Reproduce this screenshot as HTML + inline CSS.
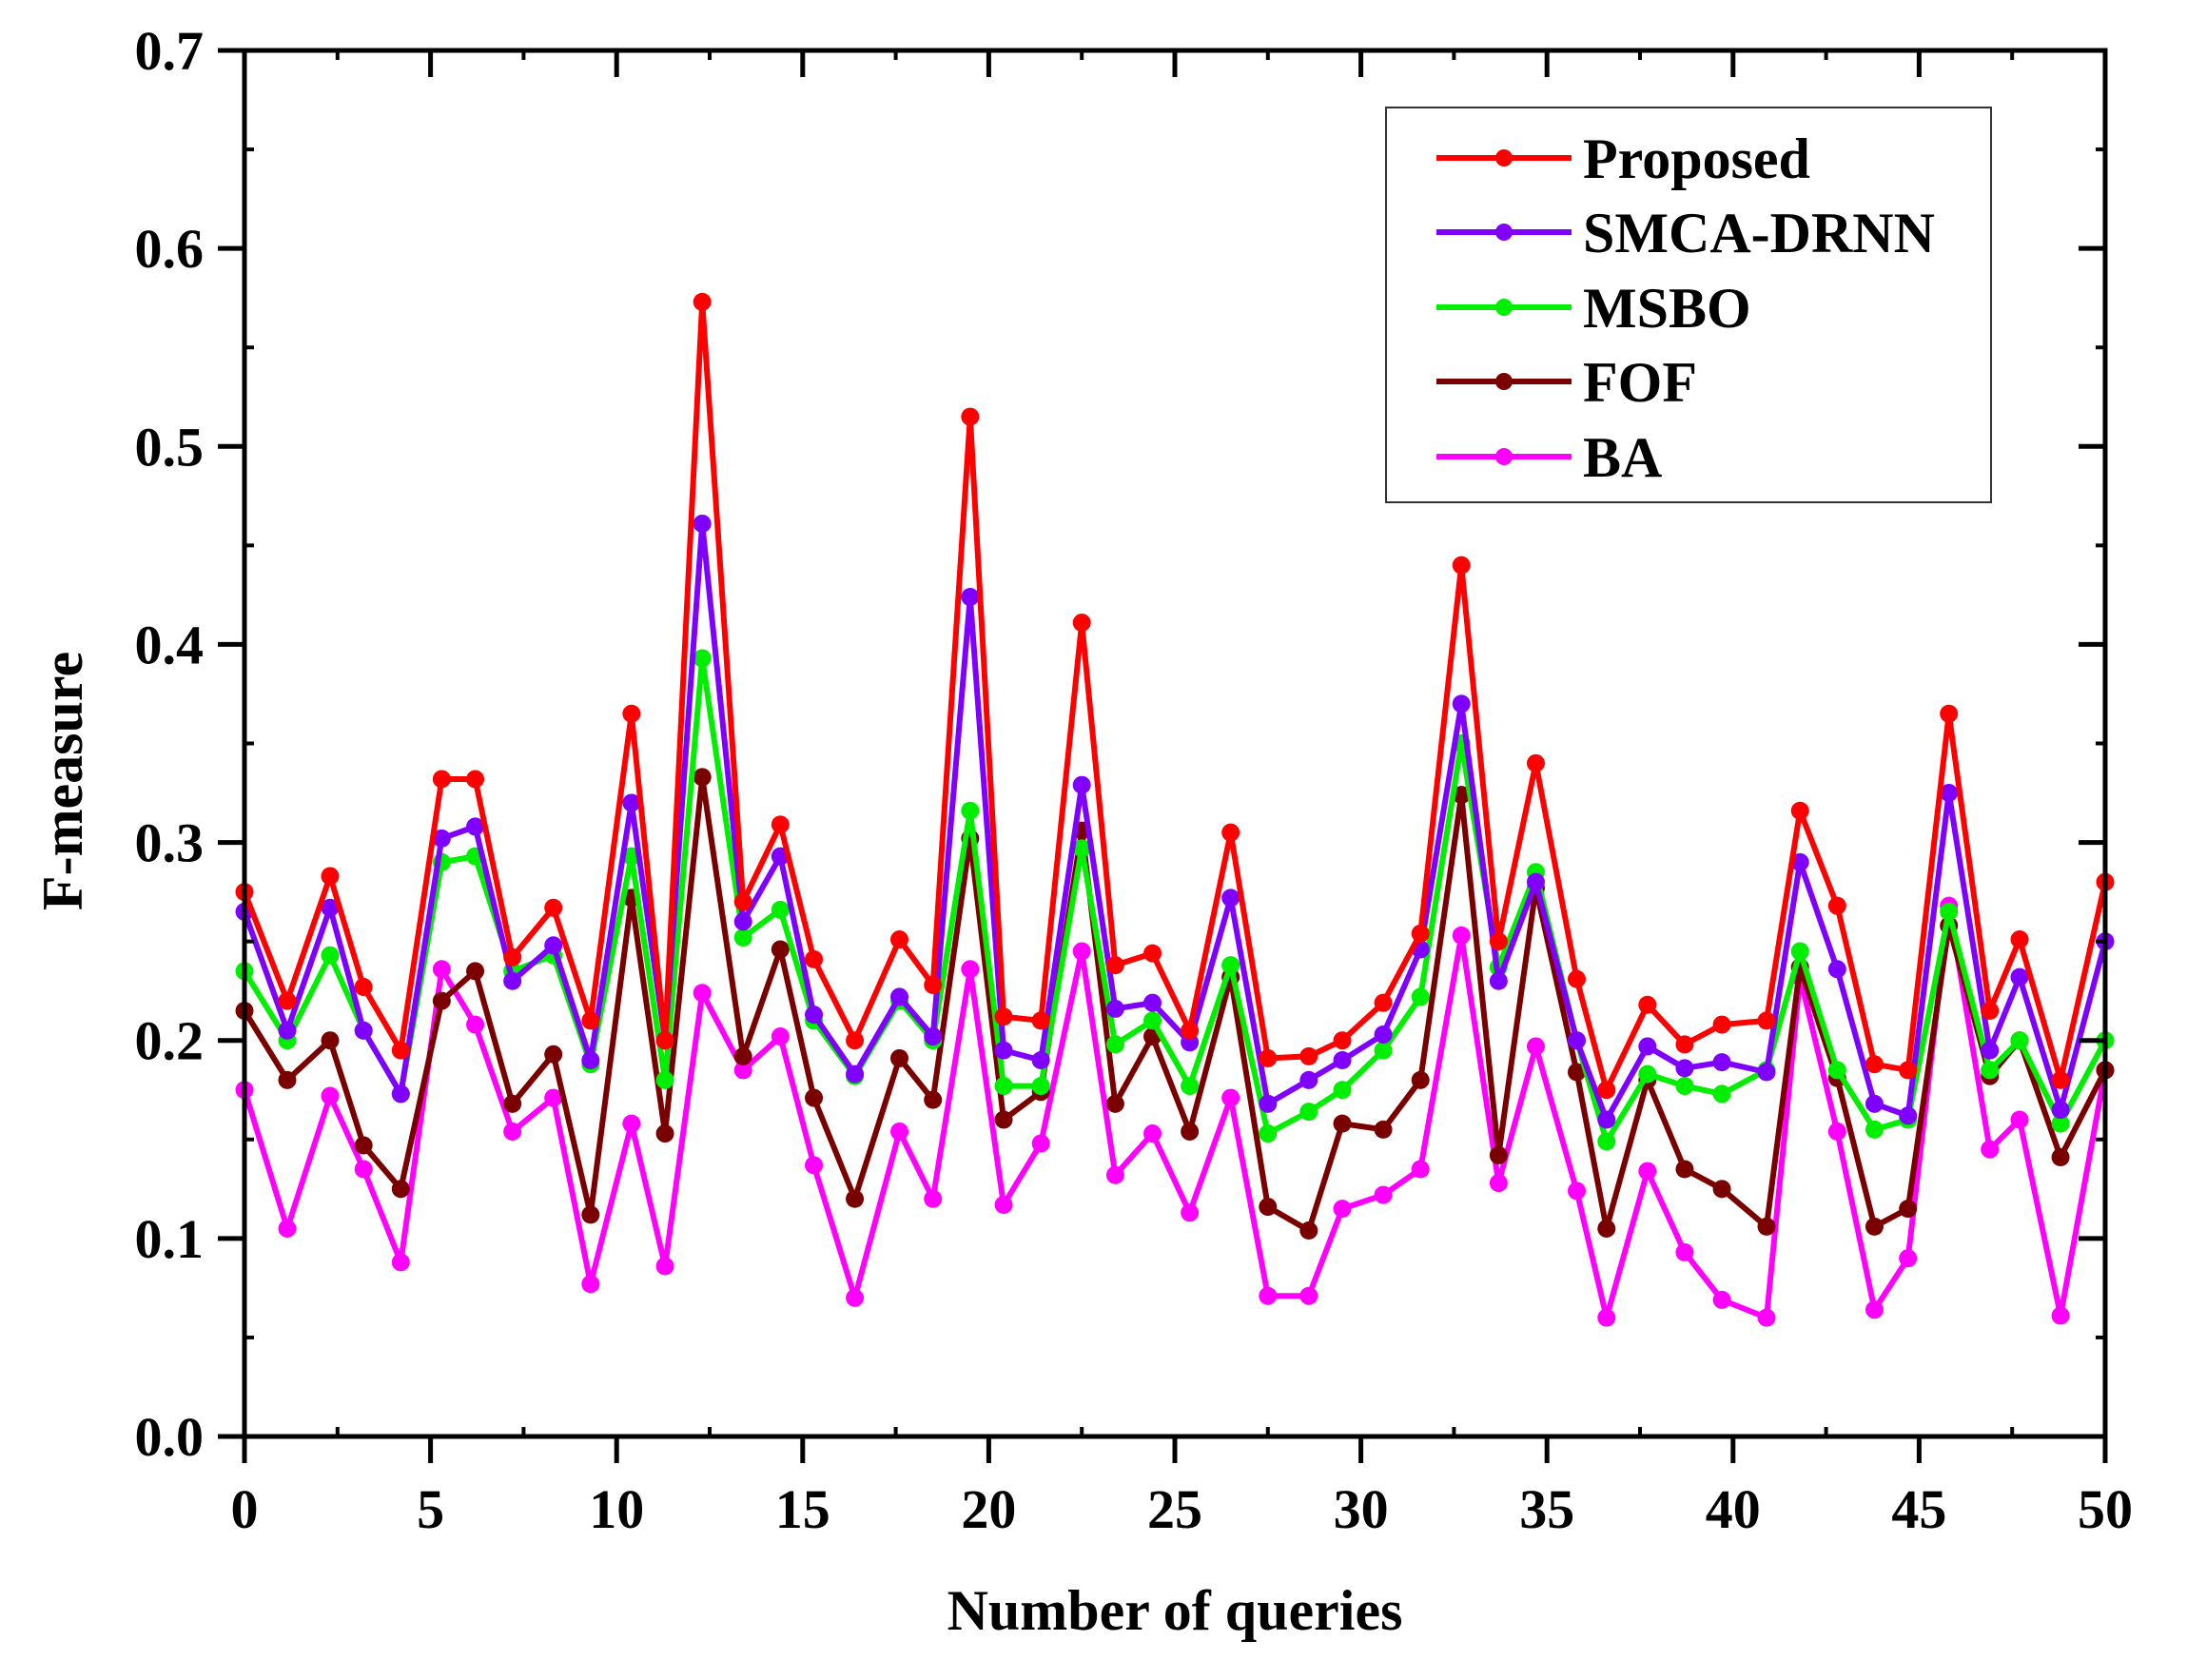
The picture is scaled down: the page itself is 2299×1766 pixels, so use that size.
<!DOCTYPE html>
<html><head><meta charset="utf-8"><style>
html,body{margin:0;padding:0;background:#fff;}
svg{display:block;font-family:"Liberation Serif",serif;font-weight:bold;}
</style></head><body>
<svg id="chart" width="2299" height="1766" viewBox="0 0 2299 1766" xmlns="http://www.w3.org/2000/svg">
<g id="plot"></g>
</svg>
<script>
const xs = [0,1.15,2.3,3.2,4.2,5.3,6.2,7.2,8.3,9.3,10.4,11.3,12.3,13.4,14.4,15.3,16.4,17.6,18.5,19.5,20.4,21.4,22.5,23.4,24.4,25.4,26.5,27.5,28.6,29.5,30.6,31.6,32.7,33.7,34.7,35.8,36.6,37.7,38.7,39.7,40.9,41.8,42.8,43.8,44.7,45.8,46.9,47.7,48.8,50];
const proposed = [.275,.22,.283,.227,.195,.332,.332,.242,.267,.21,.365,.2,.573,.27,.309,.241,.2,.251,.228,.515,.212,.21,.411,.238,.244,.205,.305,.191,.192,.2,.219,.254,.44,.25,.34,.231,.175,.218,.198,.208,.21,.316,.268,.188,.185,.365,.215,.251,.18,.28];
const smca = [.265,.205,.267,.205,.173,.302,.308,.23,.248,.19,.32,.2,.461,.26,.293,.213,.183,.222,.202,.424,.195,.19,.329,.216,.219,.199,.272,.168,.18,.19,.203,.246,.37,.23,.28,.2,.16,.197,.186,.189,.184,.29,.236,.168,.162,.325,.195,.232,.165,.25];
const msbo = [.235,.2,.243,.205,.173,.29,.293,.235,.243,.188,.293,.18,.393,.252,.266,.21,.182,.22,.2,.316,.177,.177,.297,.198,.21,.177,.238,.153,.164,.175,.195,.222,.35,.237,.285,.2,.149,.183,.177,.173,.185,.245,.185,.155,.16,.265,.185,.2,.158,.2];
const fof = [.215,.18,.2,.147,.125,.22,.235,.168,.193,.112,.272,.153,.333,.192,.246,.171,.12,.191,.17,.302,.16,.174,.306,.168,.202,.154,.232,.116,.104,.158,.155,.18,.324,.142,.277,.184,.105,.18,.135,.125,.106,.237,.181,.106,.115,.258,.182,.2,.141,.185];
const ba = [.175,.105,.172,.135,.088,.236,.208,.154,.171,.077,.158,.086,.224,.185,.202,.137,.07,.154,.12,.236,.117,.148,.245,.132,.153,.113,.171,.071,.071,.115,.122,.135,.253,.128,.197,.124,.06,.134,.093,.069,.06,.232,.154,.064,.09,.268,.145,.16,.061,.185];
const seriesNames = ["Proposed","SMCA-DRNN","MSBO","FOF","BA"];
const xTicks = [0,5,10,15,20,25,30,35,40,45,50];
const yTicks = [0.0,0.1,0.2,0.3,0.4,0.5,0.6,0.7];

const colors = ["#ff0000","#7f00ff","#00ee00","#7a0000","#ff00ff"];
const L=257,R=2213,T=53,B=1510;
const sx=v=>L+(v-0)/(50-0)*(R-L);
const sy=v=>B-(v-0)/(0.7-0)*(B-T);
const NS="http://www.w3.org/2000/svg";
const g=document.getElementById('plot');
function mk(tag,attrs){const e=document.createElementNS(NS,tag);for(const k in attrs)e.setAttribute(k,attrs[k]);g.appendChild(e);return e;}

const all=[proposed,smca,msbo,fof,ba];
const drawOrder=[4,3,2,1,0];
drawOrder.forEach(si=>{
  const ys=all[si];
  const pts=ys.map((v,i)=>sx(xs[i]).toFixed(1)+","+sy(v).toFixed(1)).join(" ");
  const pl=mk('polyline',{points:pts,fill:"none",stroke:colors[si],"stroke-width":6,"stroke-linejoin":"round"});
  
  
  ys.forEach((v,i)=>{
    const c=mk('circle',{cx:sx(xs[i]),cy:sy(v),r:9.5,fill:colors[si]});
    
    
  });
});

const fr=mk('rect',{x:L,y:T,width:R-L,height:B-T,fill:"none",stroke:"#000","stroke-width":5});



xTicks.forEach(v=>{
  const x=sx(v);
  mk('line',{x1:x,y1:B,x2:x,y2:B+28,stroke:"#000","stroke-width":5});
  mk('line',{x1:x,y1:T,x2:x,y2:T+28,stroke:"#000","stroke-width":5});
  const t=mk('text',{x:x,y:1606,"font-size":58,"text-anchor":"middle"});
  t.textContent=v;
  
  
});
for(let v=2.5;v<50;v+=5){const x=sx(v);mk('line',{x1:x,y1:B,x2:x,y2:B-10,stroke:"#000","stroke-width":4});mk('line',{x1:x,y1:T,x2:x,y2:T+10,stroke:"#000","stroke-width":4});}
yTicks.forEach(v=>{
  const y=sy(v);
  mk('line',{x1:L-28,y1:y,x2:L,y2:y,stroke:"#000","stroke-width":5});
  mk('line',{x1:R,y1:y,x2:R-28,y2:y,stroke:"#000","stroke-width":5});
  const t=mk('text',{x:214,y:y+20,"font-size":58,"text-anchor":"end"});
  t.textContent=v.toFixed(1);
  
  
});
for(let v=0.05;v<0.7;v+=0.1){const y=sy(v);mk('line',{x1:L,y1:y,x2:L+10,y2:y,stroke:"#000","stroke-width":4});mk('line',{x1:R,y1:y,x2:R-10,y2:y,stroke:"#000","stroke-width":4});}

const xt=mk('text',{x:1235,y:1713,"font-size":60,"text-anchor":"middle"});
xt.textContent="Number of queries";


const yt=mk('text',{x:0,y:0,"font-size":60,"text-anchor":"middle",transform:"translate(86,821) rotate(-90)"});
yt.textContent="F-measure";



const lb=mk('rect',{x:1457,y:113,width:636,height:415,fill:"#fff",stroke:"#333","stroke-width":2});


const ly=[166,244,323,401,480];
seriesNames.forEach((n,i)=>{
  const ln=mk('line',{x1:1510,y1:ly[i],x2:1652,y2:ly[i],stroke:colors[i],"stroke-width":6});
  
  
  mk('circle',{cx:1581,cy:ly[i],r:9,fill:colors[i]});
  const t=mk('text',{x:1664,y:ly[i]+21,"font-size":60});
  t.textContent=n;
  
  
});
</script>
</body></html>
